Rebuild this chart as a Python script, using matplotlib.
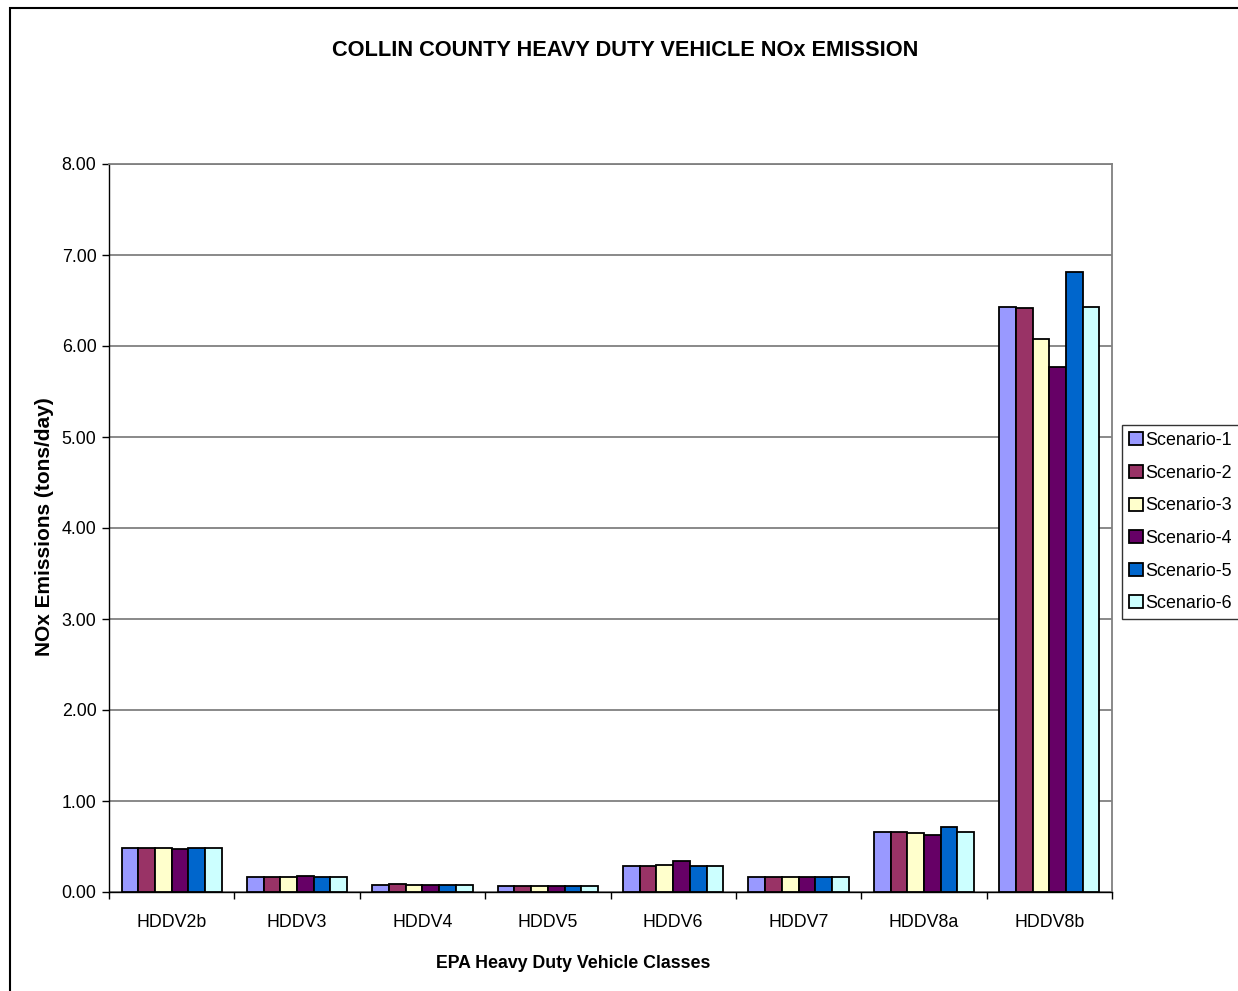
import numpy as np
import matplotlib
matplotlib.use('Agg')
import matplotlib.pyplot as plt
from matplotlib.patches import Rectangle

plt.rcParams['font.family'] = ['Liberation Sans', 'DejaVu Sans']

classes = ['HDDV2b', 'HDDV3', 'HDDV4', 'HDDV5', 'HDDV6', 'HDDV7', 'HDDV8a', 'HDDV8b']
scenario_1 = [0.48, 0.17, 0.08, 0.07, 0.29, 0.17, 0.66, 6.43]
scenario_2 = [0.48, 0.17, 0.09, 0.07, 0.29, 0.17, 0.66, 6.42]
scenario_3 = [0.48, 0.17, 0.08, 0.07, 0.30, 0.16, 0.65, 6.08]
scenario_4 = [0.47, 0.18, 0.08, 0.07, 0.34, 0.16, 0.63, 5.77]
scenario_5 = [0.48, 0.17, 0.08, 0.07, 0.29, 0.16, 0.71, 6.81]
scenario_6 = [0.48, 0.17, 0.08, 0.07, 0.29, 0.17, 0.66, 6.43]
series = [scenario_1, scenario_2, scenario_3, scenario_4, scenario_5, scenario_6]
labels = ['Scenario-1', 'Scenario-2', 'Scenario-3', 'Scenario-4', 'Scenario-5', 'Scenario-6']
colors = ['#9999FF', '#993366', '#FFFFCC', '#660066', '#0066CC', '#CCFFFF']

W, H = 1238, 991
fig = plt.figure(figsize=(W / 100, H / 100), dpi=100)
ax = fig.add_axes([109 / W, 1 - 892 / H, (1112 - 109) / W, (892 - 164) / H])

x = np.arange(len(classes))
bw = 0.8 / len(series)
for i, (vals, lab, col) in enumerate(zip(series, labels, colors)):
    ax.bar(x - 0.4 + bw * (i + 0.5), vals, bw, color=col, edgecolor='black',
           linewidth=1.3, label=lab, zorder=3)

ax.set_xlim(-0.5, len(classes) - 0.5)
ax.set_ylim(0, 8)
ax.set_yticks(np.arange(0, 8.01, 1))
ax.set_yticklabels([f'{v:.2f}' for v in np.arange(0, 8.01, 1)])
ax.set_xticks(x)
ax.set_xticklabels(classes)
ax.set_xticks(np.arange(-0.5, len(classes), 1), minor=True)
ax.tick_params(axis='x', which='major', length=0, pad=16, labelsize=12.8)
ax.tick_params(axis='x', which='minor', length=5, direction='out', width=1, color='black')
ax.tick_params(axis='y', length=5, direction='out', width=1, labelsize=12.8, pad=4)
ax.yaxis.grid(True, color='#808080', linewidth=1.3, zorder=0)
ax.set_axisbelow(True)
for s in ['top', 'right']:
    ax.spines[s].set_color('#808080')
    ax.spines[s].set_linewidth(1.3)
for s in ['left', 'bottom']:
    ax.spines[s].set_color('black')
    ax.spines[s].set_linewidth(1.0)

fig.text(625 / W, 1 - 50 / H, 'COLLIN COUNTY HEAVY DUTY VEHICLE NOx EMISSION',
         ha='center', va='center', fontsize=15.7, fontweight='bold')
fig.text(573 / W, 1 - 963 / H, 'EPA Heavy Duty Vehicle Classes',
         ha='center', va='center', fontsize=12.8, fontweight='bold')
fig.text(45 / W, 1 - 527 / H, 'NOx Emissions (tons/day)', rotation=90,
         ha='center', va='center', fontsize=15, fontweight='bold')

leg = fig.legend(loc='upper left', bbox_to_anchor=(1122 / W, 1 - 425 / H),
                 fontsize=12.9, frameon=True, fancybox=False, borderaxespad=0,
                 handlelength=0.75, handleheight=0.75, handletextpad=0.15,
                 labelspacing=0.87, borderpad=0.4)
leg.get_frame().set_edgecolor('black')
leg.get_frame().set_linewidth(1.0)

fig.patches.append(Rectangle((10 / W, -0.1), 1.2, 1.1 - 8 / H, transform=fig.transFigure,
                             fill=False, edgecolor='black', linewidth=1.5))

fig.savefig('out.png', dpi=100)
